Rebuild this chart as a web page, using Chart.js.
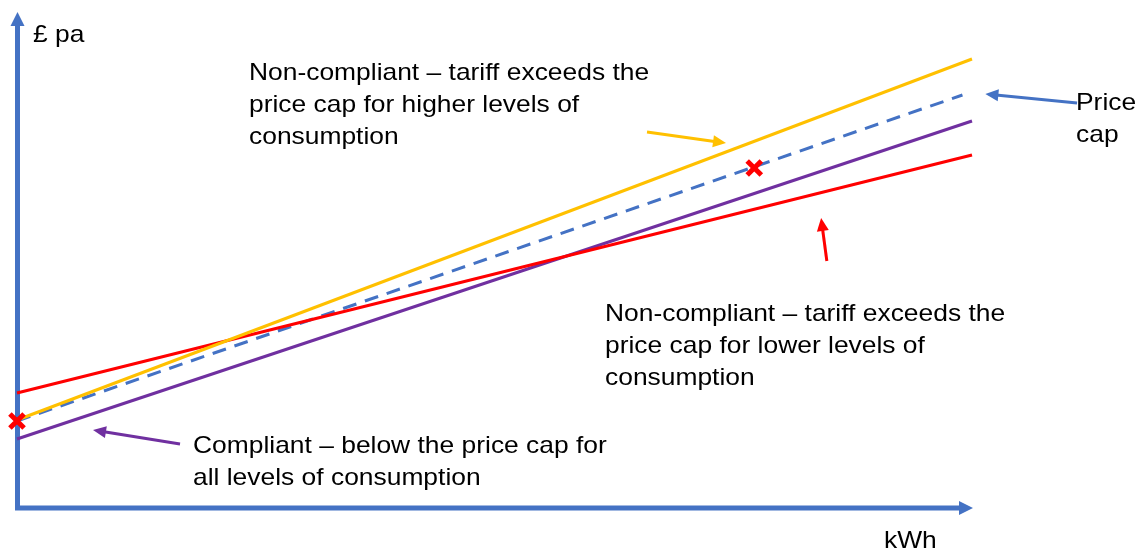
<!DOCTYPE html>
<html>
<head>
<meta charset="utf-8">
<script src="https://cdn.jsdelivr.net/npm/chart.js@4.4.1/dist/chart.umd.min.js"></script>
<style>
  html, body { margin: 0; padding: 0; background: #fff; }
  canvas { display: block; }
</style>
</head>
<body>
<canvas id="cap-chart" width="1146" height="552"></canvas>
<script>
// consumption runs 0..100 along x, annual cost 0..100 up the y axis (no real units shown)
var kwh = [0, 100];
var priceCapKwh = [0, 99];
var priceCap = [17.8, 83];
var higherTariff = [18, 90.2];     // yellow
var lowerTariff = [23.4, 71];      // red
var compliantTariff = [14.2, 77.8]; // purple
var capPointsX = [0, 77.2];
var capPointsY = [17.8, 68.4];

// annotation arrows, [tailX, tailY, tipX, tipY] in data units
var arrowHigher = [65.97, 75.6, 74.24, 73.4];
var arrowLower = [84.8, 49.8, 84.2, 58.4];
var arrowCompliant = [17.07, 13.2, 7.96, 16];
var arrowCap = [111, 81.4, 101.4, 83.2];

var BLUE = '#4472C4', YELLOW = '#FFC000', RED = '#FF0000', PURPLE = '#7030A0';

function toPoints(xs, ys) {
  var pts = [];
  for (var i = 0; i < xs.length; i++) pts.push({x: xs[i], y: ys[i]});
  return pts;
}

function arrowHead(ctx, x1, y1, x2, y2, len, half) {
  var a = Math.atan2(y2 - y1, x2 - x1);
  ctx.beginPath();
  ctx.moveTo(x2, y2);
  ctx.lineTo(x2 - len * Math.cos(a) + half * Math.sin(a), y2 - len * Math.sin(a) - half * Math.cos(a));
  ctx.lineTo(x2 - len * Math.cos(a) - half * Math.sin(a), y2 - len * Math.sin(a) + half * Math.cos(a));
  ctx.closePath();
  ctx.fill();
}

function drawArrow(chart, arr, color) {
  var ctx = chart.ctx;
  var sx = chart.scales.x, sy = chart.scales.y;
  var x1 = sx.getPixelForValue(arr[0]), y1 = sy.getPixelForValue(arr[1]);
  var x2 = sx.getPixelForValue(arr[2]), y2 = sy.getPixelForValue(arr[3]);
  var a = Math.atan2(y2 - y1, x2 - x1);
  ctx.save();
  ctx.strokeStyle = color;
  ctx.fillStyle = color;
  ctx.lineWidth = 3;
  ctx.beginPath();
  ctx.moveTo(x1, y1);
  ctx.lineTo(x2 - 8 * Math.cos(a), y2 - 8 * Math.sin(a));
  ctx.stroke();
  arrowHead(ctx, x1, y1, x2, y2, 13, 6);
  ctx.restore();
}

// text is slightly wide in the original, so stretch it a little
function drawLines(ctx, lines, x, y0, step) {
  ctx.save();
  ctx.fillStyle = '#000';
  ctx.font = '24px "Liberation Sans", Arial, sans-serif';
  ctx.textBaseline = 'alphabetic';
  for (var i = 0; i < lines.length; i++) {
    ctx.save();
    ctx.translate(x, y0 + i * step);
    ctx.scale(1.1, 1);
    ctx.fillText(lines[i], 0, 0);
    ctx.restore();
  }
  ctx.restore();
}

var axesPlugin = {
  id: 'axesArrows',
  beforeDatasetsDraw: function(chart) {
    var ctx = chart.ctx, area = chart.chartArea;
    var left = area.left + 0.5, bottom = area.bottom - 2;
    ctx.save();
    ctx.strokeStyle = BLUE;
    ctx.fillStyle = BLUE;
    ctx.lineWidth = 5;
    ctx.beginPath();
    ctx.moveTo(left, area.bottom + 0.5);
    ctx.lineTo(left, 22);
    ctx.moveTo(left - 2.5, bottom);
    ctx.lineTo(area.right - 10, bottom);
    ctx.stroke();
    arrowHead(ctx, left, 100, left, 12, 14, 7);
    arrowHead(ctx, 0, bottom, area.right + 1, bottom, 14, 7);
    ctx.restore();
  },
  afterDraw: function(chart) {
    var ctx = chart.ctx;
    drawArrow(chart, arrowHigher, YELLOW);
    drawArrow(chart, arrowLower, RED);
    drawArrow(chart, arrowCompliant, PURPLE);
    drawArrow(chart, arrowCap, BLUE);

    drawLines(ctx, ['£ pa'], 33, 42, 32);
    drawLines(ctx, ['Non-compliant – tariff exceeds the', 'price cap for higher levels of', 'consumption'], 249, 80, 32);
    drawLines(ctx, ['Non-compliant – tariff exceeds the', 'price cap for lower levels of', 'consumption'], 605, 321, 32);
    drawLines(ctx, ['Compliant – below the price cap for', 'all levels of consumption'], 193, 453, 32);
    drawLines(ctx, ['Price', 'cap'], 1076, 110, 32);
    drawLines(ctx, ['kWh'], 884, 548, 32);
  }
};

var chart = new Chart(document.getElementById('cap-chart'), {
  type: 'line',
  data: {
    datasets: [
      {
        label: 'Price cap points',
        data: toPoints(capPointsX, capPointsY),
        showLine: false,
        pointStyle: 'crossRot',
        pointRadius: 10,
        pointBorderWidth: 5,
        pointBorderColor: RED,
        pointBackgroundColor: RED,
        order: 0,
        clip: false
      },
      {
        label: 'Higher consumption non-compliant',
        data: toPoints(kwh, higherTariff),
        borderColor: YELLOW,
        borderWidth: 3,
        pointRadius: 0,
        order: 1,
        clip: false
      },
      {
        label: 'Lower consumption non-compliant',
        data: toPoints(kwh, lowerTariff),
        borderColor: RED,
        borderWidth: 3,
        pointRadius: 0,
        order: 2,
        clip: false
      },
      {
        label: 'Price cap',
        data: toPoints(priceCapKwh, priceCap),
        borderColor: BLUE,
        borderWidth: 3,
        borderDash: [14, 9],
        pointRadius: 0,
        order: 3,
        clip: false
      },
      {
        label: 'Compliant',
        data: toPoints(kwh, compliantTariff),
        borderColor: PURPLE,
        borderWidth: 3,
        pointRadius: 0,
        order: 4,
        clip: false
      }
    ]
  },
  options: {
    responsive: false,
    animation: false,
    layout: {
      autoPadding: false,
      padding: {left: 17, right: 174, top: 10, bottom: 42}
    },
    scales: {
      x: {type: 'linear', min: 0, max: 100, display: false},
      y: {type: 'linear', min: 0, max: 100, display: false}
    },
    plugins: {
      legend: {display: false},
      tooltip: {enabled: false}
    }
  },
  plugins: [axesPlugin]
});
</script>
</body>
</html>
